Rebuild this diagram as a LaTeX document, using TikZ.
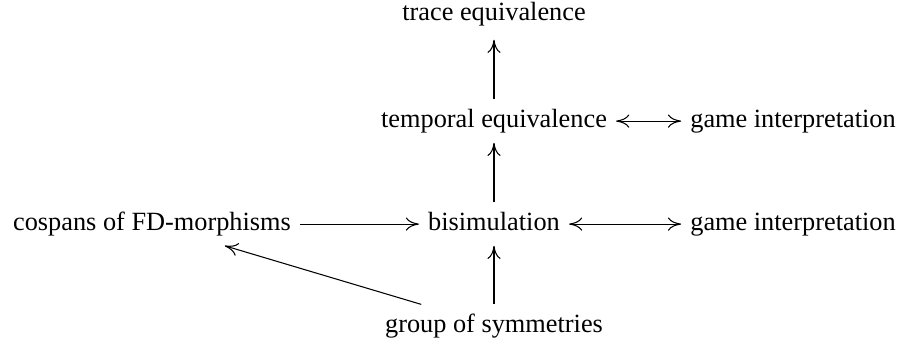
\documentclass[tikz,border=0pt]{standalone}
\usepackage{fontspec}
\setmainfont{Liberation Serif}
\usetikzlibrary{positioning, arrows.meta}

\begin{document}
\begin{tikzpicture}[
    x=0.38pt, y=-0.38pt,
    obj/.style={anchor=base, inner sep=3.3pt, text height=0.7em, text depth=0.25em},
    arrow/.style={-{To[length=5pt, width=5pt]}},
    biarrow/.style={{To[length=5pt, width=5pt]}-{To[length=5pt, width=5pt]}}
]
\useasboundingbox (0,0) rectangle (903,349);

% Nodes
\node[obj] (trace) at (494,20) {trace equivalence};
\node[obj] (temporal) at (494,127) {temporal equivalence};
\node[obj] (gametop) at (793,127) {game interpretation};
\node[obj] (cospans) at (152,230) {cospans of FD-morphisms};
\node[obj] (bisim) at (494,230) {bisimulation};
\node[obj] (gamebot) at (793,230) {game interpretation};
\node[obj] (group) at (494,332) {group of symmetries};

% Arrows
\draw[arrow, shorten >=1.5pt] (temporal) -- (trace);
\draw[arrow] (bisim) -- (temporal);
\draw[arrow] (group) -- (bisim);
\draw[arrow] (cospans) -- (bisim);
\draw[arrow] (group) -- (cospans);
\draw[biarrow] (temporal) -- (gametop);
\draw[biarrow] (bisim) -- (gamebot);

\end{tikzpicture}
\end{document}
